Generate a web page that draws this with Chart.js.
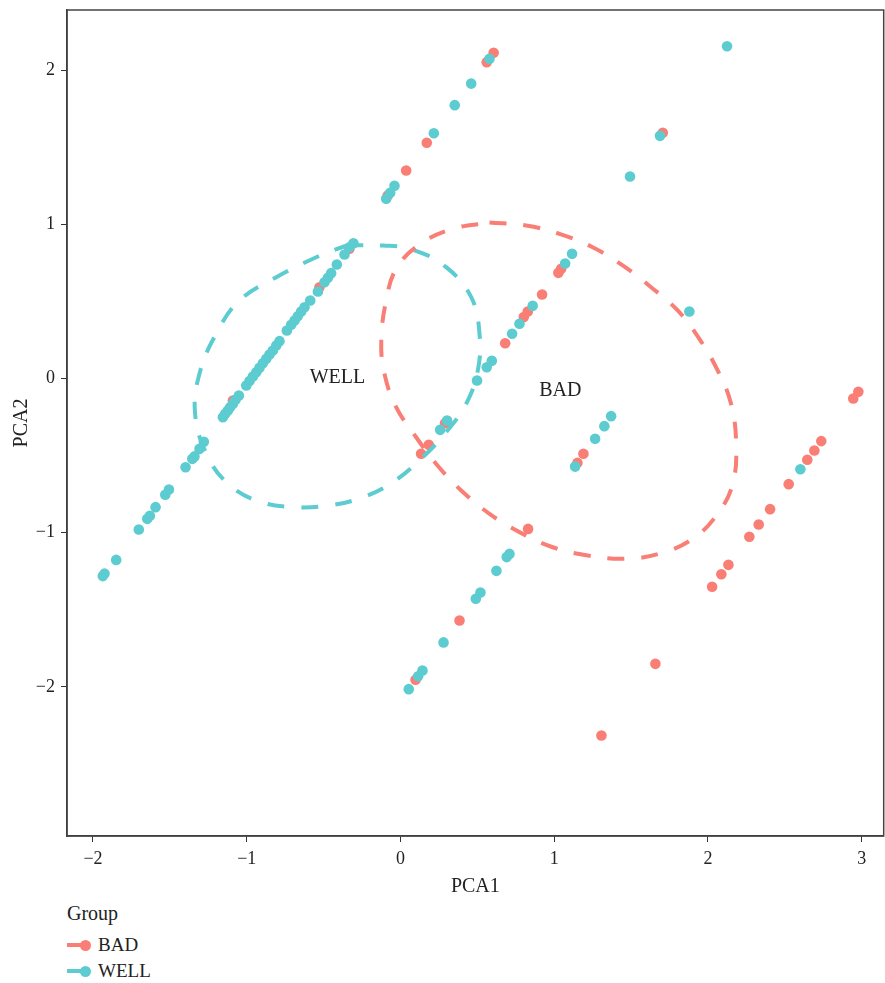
<!DOCTYPE html>
<html lang="en">
<head>
  <meta charset="UTF-8" />
  <title>PCA Group Scatter</title>
  <script src="https://cdn.jsdelivr.net/npm/chart.js"></script>
  <style>
    body {
      margin: 0;
      background: #fff;
      font-family: 'Liberation Serif', serif;
      color: #222;
      overflow: hidden;
    }
    .wrap {
      position: relative;
      width: 885px;
      height: 983px;
      overflow: hidden;
    }
    .chart-box {
      position: absolute;
      left: 0;
      top: 0;
      width: 889px;
      height: 900px;
    }
    .legend {
      position: absolute;
      left: 67px;
      top: 900px;
    }
    .legend h4 {
      margin: 0 0 6px 0;
      font-weight: normal;
      font-size: 20px;
      line-height: 26px;
    }
    .legend .item {
      display: flex;
      align-items: center;
      height: 26px;
      font-size: 19px;
    }
    .legend .sym {
      position: relative;
      width: 22px;
      height: 4px;
      margin-right: 9px;
    }
    .legend .sym i {
      position: absolute;
      right: -2px;
      top: -3.5px;
      width: 11px;
      height: 11px;
      border-radius: 50%;
    }
  </style>
</head>
<body>
  <div class="wrap">
    <div class="chart-box"><canvas id="pcaChart"></canvas></div>
    <div class="legend" id="legend"><h4>Group</h4></div>
  </div>

  <script>
    // groups
    const groups = ['BAD', 'WELL'];
    const groupColors = ['#F97E75', '#5CCCD0'];

    // BAD points
    const badX = [0.606, 0.561, 0.171, 0.037, -0.083, 1.706, 1.045, 1.027, 0.921, 0.828, 0.802, 0.681,
      0.290, 0.184, 0.134, 1.190, 1.151, 0.830, 0.384, 0.098, 1.658, 1.307,
      2.978, 2.945, 2.737, 2.692, 2.646, 2.525, 2.404, 2.330, 2.269, 2.133, 2.087, 2.027,
      -1.090, -0.527, -0.332];
    const badY = [2.112, 2.051, 1.528, 1.348, 1.186, 1.593, 0.711, 0.685, 0.545, 0.434, 0.398, 0.229,
      -0.290, -0.430, -0.488, -0.488, -0.547, -0.975, -1.569, -1.953, -1.850, -2.314,
      -0.086, -0.130, -0.406, -0.467, -0.527, -0.685, -0.847, -0.947, -1.026, -1.208, -1.269, -1.350,
      -0.143, 0.592, 0.841];

    // WELL points
    const wellX = [0.579, 0.460, 0.353, 0.217, -0.039, -0.067, -0.093, 2.124, 1.688, 1.493, 1.879,
      1.116, 1.071, 0.860, 0.774, 0.726, 0.594, 0.561, 0.498, 0.303, 0.258,
      1.370, 1.326, 1.266, 1.136, 0.709, 0.691, 0.624, 0.520, 0.490, 0.280, 0.143, 0.115, 0.054, 2.601,
      -1.936, -1.925, -1.849, -1.702, -1.647, -1.630, -1.593, -1.530, -1.506, -1.398, -1.354, -1.340, -1.307, -1.279,
      -1.155, -1.140, -1.123, -1.108, -1.090, -1.073, -1.051, -1.003, -0.982, -0.960, -0.938, -0.917, -0.895,
      -0.873, -0.852, -0.830, -0.808, -0.787, -0.739, -0.711, -0.689, -0.668, -0.646, -0.624, -0.587, -0.537,
      -0.494, -0.472, -0.451, -0.414, -0.364, -0.332, -0.306];
    const wellY = [2.073, 1.912, 1.772, 1.590, 1.249, 1.204, 1.165, 2.154, 1.573, 1.310, 0.434,
      0.808, 0.746, 0.471, 0.355, 0.290, 0.115, 0.073, -0.013, -0.272, -0.333,
      -0.244, -0.309, -0.391, -0.571, -1.137, -1.158, -1.247, -1.387, -1.428, -1.711, -1.893, -1.930, -2.014, -0.588,
      -1.281, -1.265, -1.176, -0.979, -0.910, -0.890, -0.834, -0.754, -0.720, -0.575, -0.521, -0.505, -0.456, -0.410,
      -0.251, -0.229, -0.207, -0.186, -0.164, -0.138, -0.110, -0.045, -0.017, 0.013, 0.041, 0.069, 0.099,
      0.128, 0.156, 0.182, 0.214, 0.242, 0.311, 0.348, 0.376, 0.404, 0.434, 0.462, 0.506, 0.564,
      0.624, 0.653, 0.683, 0.739, 0.804, 0.851, 0.877];

    // ellipse outlines
    const badEllX = [0.579, 0.817, 1.034, 1.250, 1.445, 1.630, 1.803, 1.944, 2.063, 2.150, 2.183, 2.161, 2.063,
      1.901, 1.684, 1.456, 1.218, 0.990, 0.774, 0.579, 0.395, 0.241, 0.102, -0.028, -0.104, -0.125, -0.093,
      -0.028, 0.124, 0.340, 0.579];
    const badEllY = [1.011, 0.992, 0.938, 0.851, 0.733, 0.592, 0.441, 0.257, 0.052, -0.164, -0.423, -0.683, -0.877,
      -1.039, -1.136, -1.169, -1.147, -1.094, -0.996, -0.877, -0.726, -0.564, -0.381, -0.186, 0.030, 0.246, 0.506,
      0.711, 0.869, 0.970, 1.011];
    const wellEllX = [-0.353, -0.115, 0.078, 0.297, 0.460, 0.514, 0.503, 0.427, 0.297, 0.145, -0.050, -0.245,
      -0.462, -0.700, -0.938, -1.133, -1.263, -1.336, -1.307, -1.198, -1.047, -0.808, -0.548, -0.353];
    const wellEllY = [0.862, 0.862, 0.836, 0.722, 0.527, 0.290, 0.052, -0.164, -0.348, -0.510, -0.672, -0.770,
      -0.823, -0.834, -0.791, -0.672, -0.486, -0.227, 0.032, 0.292, 0.506, 0.657, 0.786, 0.862];

    // group labels
    const labelX = [1.04, -0.41];
    const labelY = [-0.08, 0.005];

    // axes
    const xTicks = [-2, -1, 0, 1, 2, 3];
    const yTicks = [-2, -1, 0, 1, 2];
    const xRange = [-2.169, 3.143];
    const yRange = [-2.966, 2.389];

    const toPts = (xs, ys) => xs.map((x, i) => ({ x: x, y: ys[i] }));
    const fmt = v => (v < 0 ? '\u2212' + Math.abs(v) : String(v));
    const serif = "'Liberation Serif', serif";

    const groupLabels = {
      id: 'groupLabels',
      afterDatasetsDraw(chart) {
        const { ctx, scales: { x, y }, chartArea } = chart;
        ctx.save();
        ctx.font = '20px ' + serif;
        ctx.fillStyle = '#222';
        ctx.textAlign = 'center';
        ctx.textBaseline = 'middle';
        groups.forEach((g, i) => {
          ctx.fillText(g, x.getPixelForValue(labelX[i]), y.getPixelForValue(labelY[i]));
        });
        // panel frame
        ctx.strokeStyle = '#444';
        ctx.lineWidth = 1.5;
        ctx.strokeRect(chartArea.left, chartArea.top, chartArea.right - chartArea.left, chartArea.bottom - chartArea.top);
        ctx.restore();
      }
    };

    // drop the extra room Chart.js keeps for edge labels
    const noPad = s => { s.paddingTop = 0; s.paddingBottom = 0; s.paddingLeft = 0; s.paddingRight = 0; };

    const axisCommon = {
      type: 'linear',
      grid: { drawOnChartArea: false, drawTicks: true, tickLength: 6, color: '#333' },
      border: { display: true, color: '#333', width: 1.5 },
      ticks: { font: { family: serif, size: 18 }, color: '#222', padding: 6, callback: v => fmt(v) }
    };

    new Chart(document.getElementById('pcaChart'), {
      type: 'scatter',
      data: {
        datasets: [
          {
            label: 'BAD ellipse',
            data: toPts(badEllX, badEllY),
            showLine: true,
            tension: 0.4,
            borderColor: groupColors[0],
            borderWidth: 4,
            borderDash: [17, 17],
            pointRadius: 0,
            order: 0
          },
          {
            label: 'WELL ellipse',
            data: toPts(wellEllX, wellEllY),
            showLine: true,
            tension: 0.4,
            borderColor: groupColors[1],
            borderWidth: 4,
            borderDash: [17, 17],
            pointRadius: 0,
            order: 0
          },
          {
            label: 'BAD',
            data: toPts(badX, badY),
            backgroundColor: groupColors[0],
            borderWidth: 0,
            pointRadius: 5.3,
            order: 2
          },
          {
            label: 'WELL',
            data: toPts(wellX, wellY),
            backgroundColor: groupColors[1],
            borderWidth: 0,
            pointRadius: 5.3,
            order: 1
          }
        ]
      },
      options: {
        responsive: true,
        maintainAspectRatio: false,
        animation: false,
        layout: { padding: { top: 10, right: 0, left: 0, bottom: 0 } },
        plugins: { legend: { display: false }, tooltip: { enabled: false } },
        scales: {
          x: {
            ...axisCommon,
            min: xRange[0],
            max: xRange[1],
            afterBuildTicks: s => { s.ticks = xTicks.map(v => ({ value: v })); },
            afterFit: s => { s.height = 64; noPad(s); },
            title: { display: true, text: 'PCA1', font: { family: serif, size: 20 }, color: '#222', padding: { top: 4, bottom: 1 } }
          },
          y: {
            ...axisCommon,
            min: yRange[0],
            max: yRange[1],
            afterBuildTicks: s => { s.ticks = yTicks.map(v => ({ value: v })); },
            afterFit: s => { s.width = 67; noPad(s); },
            title: { display: true, text: 'PCA2', font: { family: serif, size: 20 }, color: '#222', padding: { top: 10, bottom: 0 } }
          }
        }
      },
      plugins: [groupLabels]
    });

    // legend
    const legend = document.getElementById('legend');
    groups.forEach((g, i) => {
      const row = document.createElement('div');
      row.className = 'item';
      row.innerHTML = '<span class="sym" style="background:' + groupColors[i] + '"><i style="background:' +
        groupColors[i] + '"></i></span>' + g;
      legend.appendChild(row);
    });
  </script>
</body>
</html>
